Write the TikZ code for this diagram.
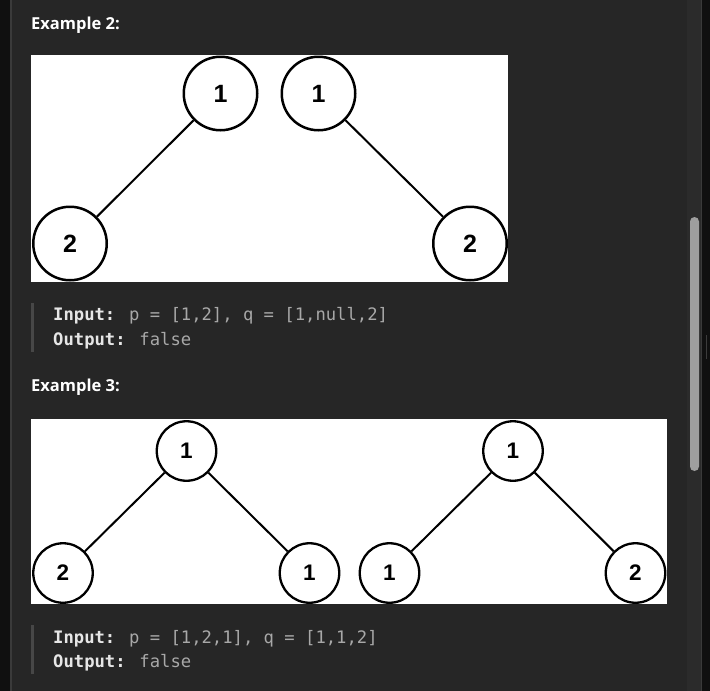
\documentclass[tikz,border=0pt]{standalone}
\usepackage{fontspec}
\setmainfont{Liberation Sans}
\newfontfamily\headfont{Open Sans}
\newfontfamily\codefont{DejaVu Sans Mono}
\newfontfamily\digitfont{Liberation Sans}
\definecolor{bgmain}{HTML}{262626}
\definecolor{sidedark}{HTML}{101010}
\definecolor{edgeline}{HTML}{3A3A3A}
\definecolor{track}{HTML}{2B2B2B}
\definecolor{thumbc}{HTML}{9E9E9E}
\definecolor{markc}{HTML}{3C3C3C}
\definecolor{barc}{HTML}{474747}
\definecolor{codekey}{HTML}{E6E6E6}
\definecolor{codeval}{HTML}{A8A8A8}
\tikzset{
  headtext/.style={anchor=base west, inner sep=0, text=white, font=\headfont\bfseries\fontsize{16.5}{19}\selectfont},
  codetext/.style={anchor=base west, inner sep=0, text=codeval, font=\codefont\fontsize{17.2}{20}\selectfont},
  bignode/.style={circle, draw=black, fill=white, line width=2.5pt, minimum size=73.5pt, inner sep=0, font=\digitfont\bfseries\fontsize{25}{27}\selectfont},
  smallnode/.style={circle, draw=black, fill=white, line width=2.3pt, minimum size=59.5pt, inner sep=0, font=\digitfont\bfseries\fontsize{22.5}{24}\selectfont},
  edgeline2/.style={draw=black, line width=2pt},
}
\newcommand{\codekw}[1]{\textcolor{codekey}{\bfseries #1}}
\begin{document}
\begin{tikzpicture}[x=1pt,y=-1pt]
\useasboundingbox (0,0) rectangle (710,691);
% window chrome
\fill[bgmain] (0,0) rectangle (710,691);
\fill[sidedark] (0,0) rectangle (10,691);
\fill[edgeline] (10,0) rectangle (11.5,691);
\fill[track] (687,0) rectangle (701,691);
\fill[edgeline] (701,0) rectangle (702,691);
\fill[sidedark] (702,0) rectangle (710,691);
\fill[thumbc, rounded corners=4.5pt] (690,217) rectangle (699,471);
\fill[markc] (705.5,335) rectangle (707,359);

% Example 2
\node[headtext] (h2) at (31,29.5) {Example 2:};
\fill[white] (31,55) rectangle (508,282);
\begin{scope}
\clip (31,55) rectangle (508,282);
\node[bignode] (a1) at (220.5,93.5) {1};
\node[bignode] (a2) at (70,243.5) {2};
\node[bignode] (b1) at (318.5,93.5) {1};
\node[bignode] (b2) at (470,243.5) {2};
\draw[edgeline2] (a1) -- (a2);
\draw[edgeline2] (b1) -- (b2);
\end{scope}
\fill[barc] (31,302.5) rectangle (33.5,351.5);
\node[codetext] (in2) at (53,320.7) {\codekw{Input:} p = [1,2], q = [1,null,2]};
\node[codetext] (out2) at (53,345) {\codekw{Output:} false};

% Example 3
\node[headtext] (h3) at (31,391.7) {Example 3:};
\fill[white] (31,419) rectangle (667,604);
\begin{scope}
\clip (31,419) rectangle (667,604);
\node[smallnode] (c1) at (186.5,451) {1};
\node[smallnode] (c2) at (63,573) {2};
\node[smallnode] (c3) at (309.5,573) {1};
\node[smallnode] (d1) at (513,451) {1};
\node[smallnode] (d2) at (389.5,573) {1};
\node[smallnode] (d3) at (635.5,573) {2};
\draw[edgeline2] (c1) -- (c2);
\draw[edgeline2] (c1) -- (c3);
\draw[edgeline2] (d1) -- (d2);
\draw[edgeline2] (d1) -- (d3);
\end{scope}
\fill[barc] (31,625) rectangle (33.5,674);
\node[codetext] (in3) at (53,643.3) {\codekw{Input:} p = [1,2,1], q = [1,1,2]};
\node[codetext] (out3) at (53,667.3) {\codekw{Output:} false};
\end{tikzpicture}
\end{document}
